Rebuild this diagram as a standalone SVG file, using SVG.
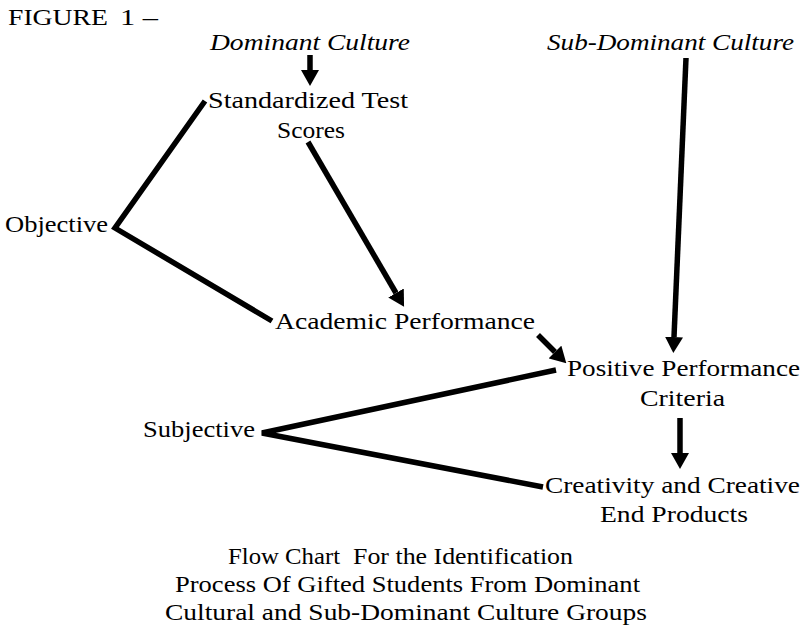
<svg xmlns="http://www.w3.org/2000/svg" width="806" height="632" viewBox="0 0 806 632">
<style>
text{font-family:"Liberation Serif","Times New Roman",serif;font-size:23px;fill:#000}
.it{font-style:italic}
.ln{fill:none;stroke:#000;stroke-width:5.5;stroke-linejoin:miter;stroke-linecap:butt}
</style>
<defs>
<marker id="ah" markerUnits="userSpaceOnUse" viewBox="0 0 16 18" refX="0" refY="9" markerWidth="16" markerHeight="18" orient="auto">
<path d="M0,0 L16,9 L0,18 z" fill="#000"/>
</marker>
</defs>
<rect width="806" height="632" fill="#fff"/>
<g id="title"><text x="8" y="25" textLength="100" lengthAdjust="spacingAndGlyphs">FIGURE</text><text x="120" y="25" textLength="38" lengthAdjust="spacingAndGlyphs">1 –</text></g>
<g id="dominant"><text class="it" x="210" y="50" textLength="200" lengthAdjust="spacingAndGlyphs">Dominant Culture</text></g>
<g id="subdominant"><text class="it" x="547" y="50" textLength="247" lengthAdjust="spacingAndGlyphs">Sub-Dominant Culture</text></g>
<g id="standardized"><text x="208" y="108" textLength="200" lengthAdjust="spacingAndGlyphs">Standardized Test</text><text x="277" y="138" textLength="68" lengthAdjust="spacingAndGlyphs">Scores</text></g>
<g id="objective"><text x="5" y="232" textLength="103" lengthAdjust="spacingAndGlyphs">Objective</text></g>
<g id="academic"><text x="275" y="329" textLength="260" lengthAdjust="spacingAndGlyphs">Academic Performance</text></g>
<g id="positive"><text x="567" y="376" textLength="233" lengthAdjust="spacingAndGlyphs">Positive Performance</text><text x="640" y="406" textLength="85" lengthAdjust="spacingAndGlyphs">Criteria</text></g>
<g id="subjective"><text x="143" y="437" textLength="112" lengthAdjust="spacingAndGlyphs">Subjective</text></g>
<g id="creativity"><text x="545" y="493" textLength="255" lengthAdjust="spacingAndGlyphs">Creativity and Creative</text><text x="600" y="522" textLength="148" lengthAdjust="spacingAndGlyphs">End Products</text></g>
<g id="caption">
<text x="228" y="564" textLength="112" lengthAdjust="spacingAndGlyphs">Flow Chart</text>
<text x="353" y="564" textLength="220" lengthAdjust="spacingAndGlyphs">For the Identification</text>
<text x="175" y="592" textLength="465" lengthAdjust="spacingAndGlyphs">Process Of Gifted Students From Dominant</text>
<text x="165" y="620" textLength="482" lengthAdjust="spacingAndGlyphs">Cultural and Sub-Dominant Culture Groups</text>
</g>
<g id="connectors">
<line class="ln" x1="310" y1="55" x2="310" y2="70" stroke-width="6.5" marker-end="url(#ah)"/>
<line class="ln" x1="308" y1="142" x2="396" y2="293" marker-end="url(#ah)"/>
<line class="ln" x1="538" y1="335" x2="555" y2="352" stroke-width="7.5" marker-end="url(#ah)"/>
<line class="ln" x1="686" y1="58" x2="674" y2="337" marker-end="url(#ah)"/>
<line class="ln" x1="680" y1="418" x2="680" y2="453" stroke-width="7" marker-end="url(#ah)"/>
<polyline class="ln" points="205,101 115,228 272,321"/>
<polyline class="ln" points="556,370 262,433 543,487"/>
</g>
</svg>
